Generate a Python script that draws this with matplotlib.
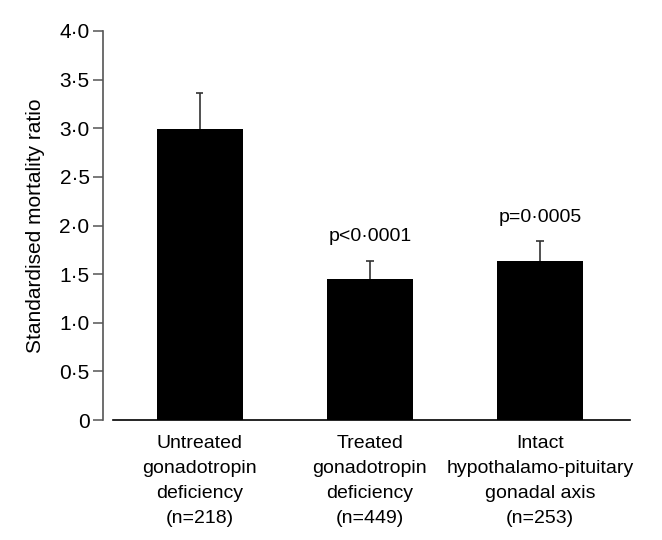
import numpy as np
import matplotlib.pyplot as plt

plt.rcParams['font.family'] = ['Liberation Sans', 'DejaVu Sans']

# data
groups = ["Untreated\ngonadotropin\ndeficiency\n(n=218)",
          "Treated\ngonadotropin\ndeficiency\n(n=449)",
          "Intact\nhypothalamo-pituitary\ngonadal axis\n(n=253)"]
smr = [2.99, 1.45, 1.63]
upper_ci = [3.36, 1.64, 1.84]
p_labels = ["", "p<0\u00b70001", "p=0\u00b70005"]
yticks = [0, 0.5, 1.0, 1.5, 2.0, 2.5, 3.0, 3.5, 4.0]
ytick_labels = ["0", "0\u00b75", "1\u00b70", "1\u00b75", "2\u00b70", "2\u00b75", "3\u00b70", "3\u00b75", "4\u00b70"]

fig = plt.figure(figsize=(6.62, 5.4), dpi=100)
ax = fig.add_axes([0.1707, 0.2222, 0.781, 0.7204])

x = np.arange(len(groups))
ax.bar(x, smr, width=0.506, color="black", zorder=2)
# upper error bars only (T shape)
ax.vlines(x, smr, upper_ci, color="#333333", linewidth=1.2, zorder=1)
ax.hlines(upper_ci, x - 0.022, x + 0.022, color="#333333", linewidth=1.2, zorder=1)

for xi, top, lab in zip(x, upper_ci, p_labels):
    if lab:
        ax.text(xi, top + 0.16, lab, ha="center", va="bottom", fontsize=14)

ax.set_xlim(-0.51, 2.53)
ax.set_ylim(0, 4)
ax.set_yticks(yticks)
ax.set_yticklabels(ytick_labels)
ax.set_xticks(x)
ax.set_xticklabels(groups, linespacing=1.62)
ax.tick_params(axis="x", length=0, pad=10.5, labelsize=14)
ax.tick_params(axis="y", length=7.2, width=1.1, color="#555555", pad=2.5, labelsize=15)
ax.set_ylabel("Standardised mortality ratio", fontsize=15, labelpad=10)

ax.spines["top"].set_visible(False)
ax.spines["right"].set_visible(False)
ax.spines["left"].set_position(("outward", 7.2))
ax.spines["left"].set_color("#555555")
ax.spines["left"].set_linewidth(1.2)
ax.spines["bottom"].set_linewidth(1.2)

fig.savefig("out.png", dpi=100)
